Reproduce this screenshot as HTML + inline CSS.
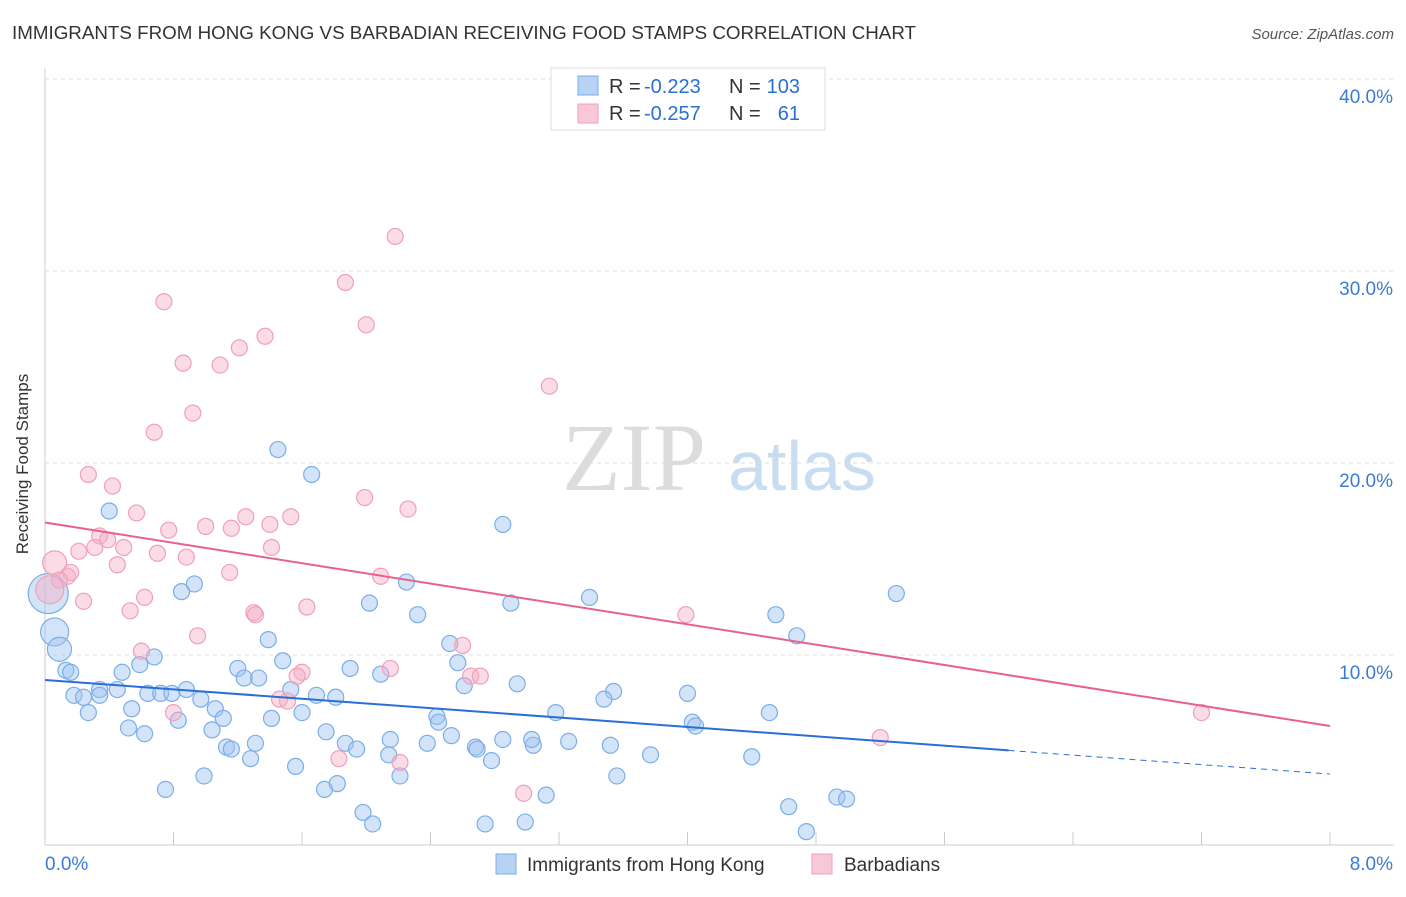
<!DOCTYPE html>
<html><head><meta charset="utf-8"><style>
body{margin:0;background:#fff;font-family:"Liberation Sans",sans-serif;}
</style></head><body>
<svg width="1406" height="892" viewBox="0 0 1406 892" xmlns="http://www.w3.org/2000/svg">
<text x="12" y="39" font-size="18" fill="#333" textLength="904" lengthAdjust="spacingAndGlyphs">IMMIGRANTS FROM HONG KONG VS BARBADIAN RECEIVING FOOD STAMPS CORRELATION CHART</text>
<text x="1394" y="39" font-size="15" fill="#555" font-style="italic" text-anchor="end">Source: ZipAtlas.com</text>
<g>
<text x="634" y="490" font-size="96" fill="#dcdcdc" font-family="Liberation Serif,serif" text-anchor="middle">ZIP</text>
<text x="802" y="490" font-size="70" fill="#c8dcf2" text-anchor="middle">atlas</text>
</g>
<g id="grid"></g>
<g id="axes"></g>
<g id="pts"></g>
<g id="trend"></g>
<text x="20" y="456" font-size="17" fill="#333" transform="rotate(-90 28 456)" text-anchor="middle">Receiving Food Stamps</text>
<g>
<rect x="551" y="68" width="274" height="62" fill="#fff" stroke="#ddd"/>
<rect x="578" y="76" width="20" height="19" fill="#b8d2f4" stroke="#7aaee8"/>
<rect x="578" y="104" width="20" height="19" fill="#f8c8d6" stroke="#f0a0b8"/>
<text x="609" y="93" font-size="20" fill="#333">R =</text>
<text x="644" y="93" font-size="20" fill="#2a6fd6">-0.223</text>
<text x="729" y="93" font-size="20" fill="#333">N =</text>
<text x="800" y="93" font-size="20" fill="#2a6fd6" text-anchor="end">103</text>
<text x="609" y="120" font-size="20" fill="#333">R =</text>
<text x="644" y="120" font-size="20" fill="#2a6fd6">-0.257</text>
<text x="729" y="120" font-size="20" fill="#333">N =</text>
<text x="800" y="120" font-size="20" fill="#2a6fd6" text-anchor="end">61</text>
</g>
<g>
<rect x="496" y="854" width="20" height="20" fill="#b8d2f4" stroke="#7aaee8"/>
<text x="527" y="871" font-size="19" fill="#333">Immigrants from Hong Kong</text>
<rect x="812" y="854" width="20" height="20" fill="#f8c8d6" stroke="#f0a0b8"/>
<text x="844" y="871" font-size="19" fill="#333">Barbadians</text>
</g>
</svg>
<script>
const xTicks=[0,8];
const yTicks=[10,20,30,40];
const blueX=[0.40,1.45,1.66,2.85,5.30,0.85,0.93,2.25,2.02,2.90,3.39,4.55,4.68,2.32,1.39,2.52,0.68,0.59,0.48,0.13,0.16,1.20,1.48,1.90,2.09,2.57,2.61,2.94,3.54,3.48,4.00,4.51,3.18,4.03,4.05,0.34,0.34,0.18,0.24,0.45,0.64,0.72,0.79,0.88,0.97,1.06,1.11,1.04,0.52,0.62,0.27,0.54,0.83,1.24,1.33,1.53,1.41,1.60,1.69,1.81,1.75,1.87,1.94,2.15,2.14,2.38,2.44,2.45,2.53,2.68,2.69,2.78,2.85,3.04,3.26,3.52,3.77,4.40,1.13,1.16,1.28,1.31,1.56,0.99,0.75,1.74,1.82,2.21,3.56,3.12,4.63,4.93,4.99,1.98,2.04,2.74,2.99,4.74,3.03,0.02,0.06,0.09];
const blueY=[17.5,20.7,19.4,16.8,13.2,13.3,13.7,13.8,12.7,12.7,13.0,12.1,11.0,12.1,10.8,10.6,9.9,9.5,9.1,9.2,9.1,9.3,9.7,9.3,9.0,9.6,8.4,8.5,8.1,7.7,8.0,7.0,7.0,6.5,6.3,8.2,7.9,7.9,7.8,8.2,8.0,8.0,8.0,8.2,7.7,7.2,6.7,6.1,6.2,5.9,7.0,7.2,6.6,8.8,8.8,8.2,6.7,7.0,7.9,7.8,6.0,5.4,5.1,5.6,4.8,5.4,6.8,6.5,5.8,5.2,5.1,4.5,5.6,5.3,5.5,5.3,4.8,4.7,5.2,5.1,4.6,5.4,4.2,3.7,3.0,3.0,3.3,3.7,3.7,2.7,2.1,2.6,2.5,1.8,1.2,1.2,1.3,0.8,5.6,13.2,11.2,10.3];
const blueR=blueX.map((v,i)=>i>=blueX.length-3?[20,14,12][i-(blueX.length-3)]:8);
const pinkX=[2.18,1.87,2.00,0.74,1.37,1.21,0.86,1.09,3.14,0.92,0.68,0.27,0.42,1.99,2.26,0.57,1.25,1.53,1.00,1.16,0.77,1.40,0.34,0.39,0.31,0.49,1.41,0.70,0.88,0.21,0.45,0.06,0.14,0.16,1.15,2.09,0.09,0.62,0.24,0.53,1.30,1.31,1.63,3.99,0.95,2.60,0.60,1.60,2.15,2.65,2.71,1.57,1.46,1.51,0.80,7.20,5.20,1.83,2.21,2.98,0.03];
const pinkY=[31.8,29.4,27.2,28.4,26.6,26.0,25.2,25.1,24.0,22.6,21.6,19.4,18.8,18.2,17.6,17.4,17.2,17.2,16.7,16.6,16.5,16.8,16.2,16.0,15.6,15.6,15.6,15.3,15.1,15.4,14.7,14.8,14.1,14.3,14.3,14.1,13.9,13.0,12.8,12.3,12.2,12.1,12.5,12.1,11.0,10.5,10.2,9.1,9.3,8.9,8.9,8.9,7.7,7.6,7.0,7.0,5.7,4.6,4.4,2.8,13.4];
const pinkR=pinkX.map((v,i)=>i===31?12:(i===pinkX.length-1?14:8));
const blueTrend=[[0,8.7],[6.0,5.03],[8,3.8]];
const pinkTrend=[[0,16.9],[8,6.3]];
const NS="http://www.w3.org/2000/svg";
const X=v=>45+v/8*1285;
const Y=v=>847-v*19.2;
function mk(tag,attrs,parent){const e=document.createElementNS(NS,tag);for(const k in attrs)e.setAttribute(k,attrs[k]);document.getElementById(parent).appendChild(e);return e;}
yTicks.forEach(t=>{
 const l=mk('line',{x1:45,x2:1394,y1:Y(t),y2:Y(t),stroke:'#ddd','stroke-dasharray':'4,4'},'grid');
 
 
 const tx=mk('text',{x:1393,y:Y(t)+24,'font-size':19,fill:'#3a7bd5','text-anchor':'end'},'grid');
 tx.textContent=t.toFixed(1)+'%';
 
 
});
mk('line',{x1:45,x2:45,y1:68,y2:845,stroke:'#ccc'},'axes');
mk('line',{x1:45,x2:1394,y1:845,y2:845,stroke:'#ccc'},'axes');
for(let i=0;i<=10;i++){const x=X(i*0.8);const t=mk('line',{x1:x,x2:x,y1:832,y2:845,stroke:'#ccc'},'axes');
 
 }
xTicks.forEach((t,i)=>{const tx=mk('text',{x:i?1393:45,y:870,'font-size':19,fill:'#3a7bd5','text-anchor':i?'end':'start'},'axes');tx.textContent=t.toFixed(1)+'%';
 
 });
blueX.forEach((v,i)=>{const c=mk('circle',{cx:X(v),cy:Y(blueY[i]),r:blueR[i],fill:'rgba(160,196,240,0.45)',stroke:'#7aaee8','stroke-width':1.2},'pts');
 
 });
pinkX.forEach((v,i)=>{const c=mk('circle',{cx:X(v),cy:Y(pinkY[i]),r:pinkR[i],fill:'rgba(244,176,200,0.45)',stroke:'#f0a0b8','stroke-width':1.2},'pts');
 
 });
let l1=mk('line',{x1:X(blueTrend[0][0]),y1:Y(blueTrend[0][1]),x2:X(blueTrend[1][0]),y2:Y(blueTrend[1][1]),stroke:'#2a6fd6','stroke-width':2},'trend');


let l2=mk('line',{x1:X(blueTrend[1][0]),y1:Y(blueTrend[1][1]),x2:X(blueTrend[2][0]),y2:Y(blueTrend[2][1]),stroke:'#2a6fd6','stroke-width':1,'stroke-dasharray':'6,5'},'trend');


let l3=mk('line',{x1:X(pinkTrend[0][0]),y1:Y(pinkTrend[0][1]),x2:X(pinkTrend[1][0]),y2:Y(pinkTrend[1][1]),stroke:'#e8608f','stroke-width':2},'trend');


</script>
</body></html>
